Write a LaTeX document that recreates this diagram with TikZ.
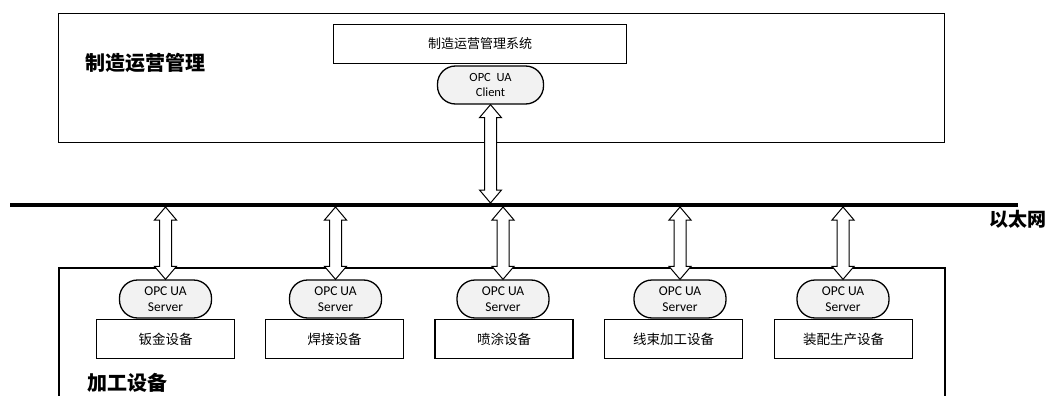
\documentclass[tikz,border=0pt]{standalone}
\usepackage{fontspec}
\setmainfont{Carlito}
\newfontfamily\cjk{Noto Sans CJK SC}
\usetikzlibrary{calc}
\newcommand\hollowarrow[2]{%
  \path[arr] let \p1=(#1), \p2=(#2) in
  (\x1,\y1) -- ++(11pt,-13pt) -- ++(-5pt,0pt) -- (\x1+6pt,\y2+13pt) -- ++(5pt,0pt)
  -- (\x1,\y2) -- ++(-11pt,13pt) -- ++(5pt,0pt) -- (\x1-6pt,\y1-13pt) -- ++(-5pt,0pt) -- cycle;}
\begin{document}
\begin{tikzpicture}[x=1pt,y=-1pt,
  frame/.style={draw, line width=1.1pt, inner sep=0pt},
  devbox/.style={draw, line width=1.5pt, minimum width=138pt, minimum height=39pt, inner sep=0pt,
    font=\cjk\fontsize{13.5}{16}\selectfont},
  sysbox/.style={draw, line width=1.4pt, minimum width=293pt, minimum height=39pt, inner sep=0pt,
    font=\cjk\fontsize{13}{16}\selectfont},
  opc/.style={draw, line width=1.3pt, fill=gray!10, rounded corners=18pt, minimum width=92pt,
    minimum height=38pt, inner sep=0pt, align=center, font=\fontsize{13.5}{16}\selectfont},
  title/.style={font=\cjk\bfseries\fontsize{20}{24}\selectfont, inner sep=0pt},
  arr/.style={draw, line width=1pt, fill=white, line join=miter}]
\useasboundingbox (0,0) rectangle (1052,396);

% top area
\node[frame, minimum width=886pt, minimum height=129pt, anchor=north west] (top) at (58,13) {};
\node[title, anchor=west] (ttop) at (85,63) {制造运营管理};
\node[sysbox] (sys) at (480,44) {制造运营管理系统};
\node[opc, minimum width=106pt, font=\fontsize{12.5}{14.5}\selectfont] (cl) at (490.5,85) {OPC\ \ UA\\Client};

% ethernet bus
\coordinate (bl) at (10,205);
\coordinate (br) at (1018,205);
\draw[line width=4pt] (bl) -- (br);
\node[title, font=\cjk\bfseries\fontsize{19}{22}\selectfont, anchor=west] (eth) at (989,219) {以太网};
\coordinate (bc) at (492,203);
\hollowarrow{cl.south}{bc}

% bottom area
\coordinate (bb1) at (59,397);
\coordinate (bb2) at (59,268);
\coordinate (bb3) at (945,268);
\coordinate (bb4) at (945,397);
\draw[line width=1.1pt] (bb1) -- (bb2) -- (bb3) -- (bb4);
\node[title, anchor=west] (tbot) at (87,383) {加工设备};

\foreach \i/\sx/\dx/\lab in {1/165.5/165.5/钣金设备, 2/335.5/334.5/焊接设备, 3/503/504/喷涂设备,
                          4/680/673.5/线束加工设备, 5/843/843.5/装配生产设备}{
  \node[devbox] (d\i) at (\dx,339) {\lab};
  \node[opc] (s\i) at (\sx,299) {OPC UA\\Server};
  \coordinate (b\i) at (\sx,207);
  \hollowarrow{b\i}{s\i.north}
}
\end{tikzpicture}
\end{document}
